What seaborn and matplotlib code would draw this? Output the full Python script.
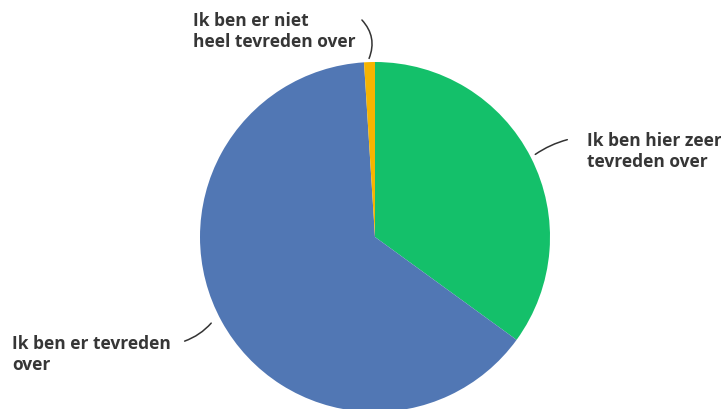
import matplotlib
matplotlib.use('Agg')
import matplotlib.pyplot as plt
import seaborn as sns

# Antwoorden en aandelen (%), in volgorde met de klok mee vanaf boven
labels = ['Ik ben hier zeer\ntevreden over',
          'Ik ben er tevreden\nover',
          'Ik ben er niet\nheel tevreden over']
values = [35, 64, 1]
colors = ['#14C06A', '#5177B4', '#F6B400']

sns.set_theme(style='white')
plt.rcParams['font.family'] = ['Open Sans', 'DejaVu Sans']

W, H = 721, 410
CX, CY, R = 375, 238, 175


def px(x, y):
    # pixelpositie -> datacoördinaten (straal 1 = R pixels)
    return ((x - CX) / R, (CY - y) / R)


fig = plt.figure(figsize=(W / 100, H / 100), dpi=100)
ax = fig.add_axes([0, 0, 1, 1])
ax.pie(values, colors=colors, startangle=90, counterclock=False,
       radius=1, wedgeprops={'linewidth': 0})
ax.set_xlim(-CX / R, (W - CX) / R)
ax.set_ylim(-(H - CY) / R, CY / R)
ax.set_aspect('equal')
ax.axis('off')

txt = dict(fontsize=12.5, fontweight='bold', color='#363636',
           ha='left', va='top', linespacing=1.22)
ax.text(*px(587, 132), labels[0], **txt)
ax.text(*px(12, 335), labels[1], **txt)
ax.text(*px(193, 12), labels[2], **txt)

line = dict(arrowstyle='-', color='#333333', lw=1.1)
ax.annotate('', xy=px(533, 157), xytext=px(570, 140),
            arrowprops=dict(line, connectionstyle='arc3,rad=0.1'))
ax.annotate('', xy=px(213, 322), xytext=px(182, 343),
            arrowprops=dict(line, connectionstyle='arc3,rad=0.15'))
ax.annotate('', xy=px(368, 62), xytext=px(360, 19),
            arrowprops=dict(line, connectionstyle='arc3,rad=-0.35'))

fig.savefig('out.png', dpi=100)
